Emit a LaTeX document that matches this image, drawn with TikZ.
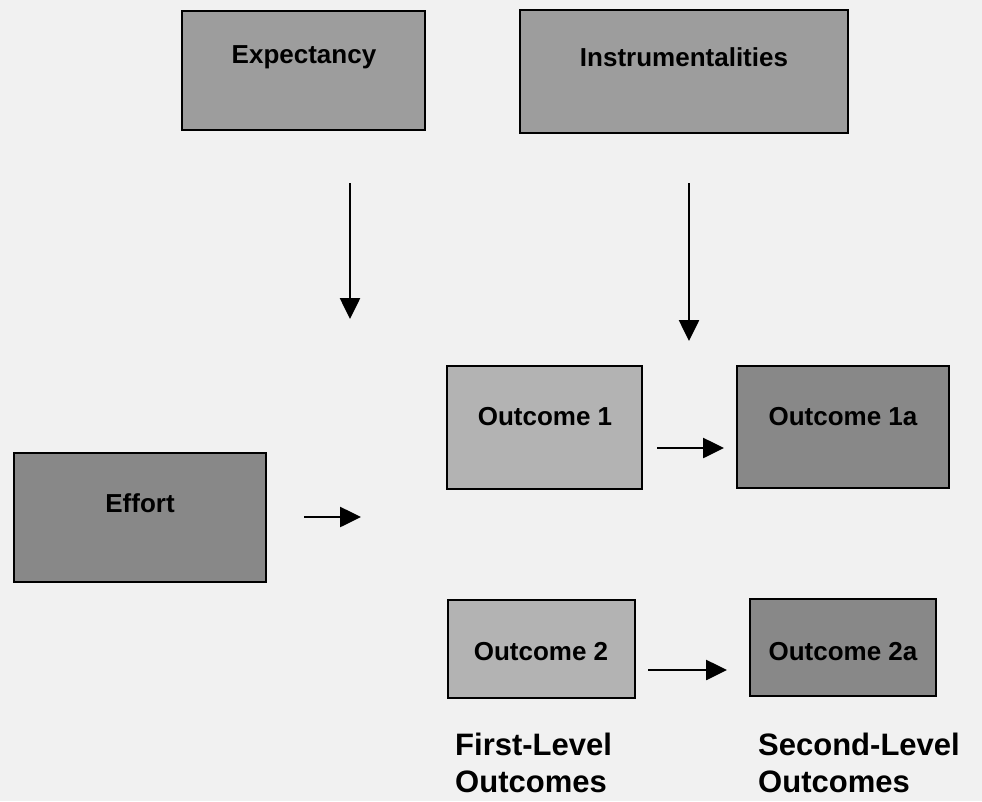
\documentclass[tikz,border=0pt]{standalone}
\usepackage{fontspec}
\setmainfont{Liberation Sans}
\usetikzlibrary{arrows.meta}
\definecolor{bgcol}{HTML}{F1F1F1}
\definecolor{topfill}{HTML}{9D9D9D}
\definecolor{darkfill}{HTML}{888888}
\definecolor{lightfill}{HTML}{B3B3B3}
\tikzset{
  box/.style={draw=black, line width=1.8pt, inner sep=0pt},
  boxlabel/.style={font=\fontsize{26}{30}\selectfont\bfseries},
  flow/.style={line width=2.6pt, -{Triangle[length=21pt,width=20pt]}},
  caption/.style={anchor=north west, align=left, inner sep=0pt,
    font=\fontsize{31}{37}\selectfont\bfseries}
}
\begin{document}
\begin{tikzpicture}[x=1pt,y=-1pt]
  \fill[bgcol] (0,0) rectangle (982,801);
  \useasboundingbox (0,0) rectangle (982,801);

  % boxes: corner-to-corner rectangles
  \newcommand{\boxat}[6]{%
    \node[box, fill=#6, minimum width={#3-#1}, minimum height={#4-#2}]
      (#5) at ({(#1+#3)/2},{(#2+#4)/2}) {};}
  \boxat{182}{11}{425}{130}{expect}{topfill}
  \boxat{520}{10}{848}{133}{instr}{topfill}
  \boxat{14}{453}{266}{582}{effort}{darkfill}
  \boxat{447}{366}{642}{489}{out1}{lightfill}
  \boxat{737}{366}{949}{488}{out1a}{darkfill}
  \boxat{448}{600}{635}{698}{out2}{lightfill}
  \boxat{750}{599}{936}{696}{out2a}{darkfill}

  % labels sit in the upper part of each box
  \node[boxlabel] (expectT) at (304,57) {Expectancy};
  \node[boxlabel] (instrT) at (684,57) {Instrumentalities};
  \node[boxlabel] (effortT) at (140,503) {Effort};
  \node[boxlabel] (out1T) at (545,417) {Outcome 1};
  \node[boxlabel] (out1aT) at (843,417) {Outcome 1a};
  \node[boxlabel] (out2T) at (541,652) {Outcome 2};
  \node[boxlabel] (out2aT) at (843,652) {Outcome 2a};

  \node[caption] (first) at (455,733) {First-Level\\Outcomes};
  \node[caption] (second) at (758,733) {Second-Level\\Outcomes};

  % free-standing arrows
  \coordinate (a1s) at (350,183); \coordinate (a1e) at (350,319);
  \coordinate (a2s) at (689,183); \coordinate (a2e) at (689,341);
  \coordinate (a3s) at (304,517); \coordinate (a3e) at (361,517);
  \coordinate (a4s) at (657,448); \coordinate (a4e) at (724,448);
  \coordinate (a5s) at (648,670); \coordinate (a5e) at (727,670);
  \draw[flow] (a1s) -- (a1e);
  \draw[flow] (a2s) -- (a2e);
  \draw[flow] (a3s) -- (a3e);
  \draw[flow] (a4s) -- (a4e);
  \draw[flow] (a5s) -- (a5e);
\end{tikzpicture}
\end{document}
